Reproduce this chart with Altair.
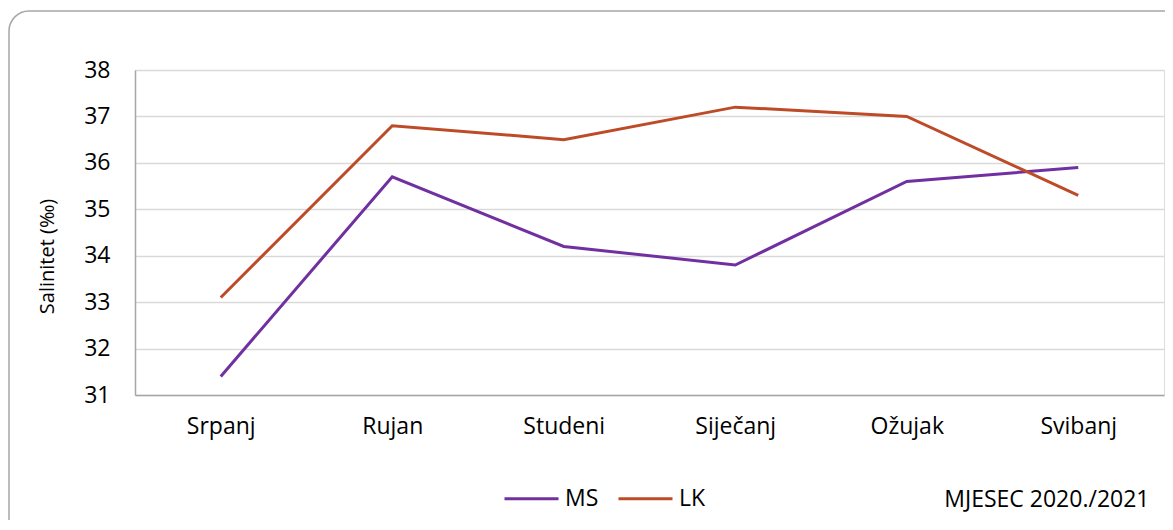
import altair as alt
import pandas as pd

months = ["Srpanj", "Rujan", "Studeni", "Siječanj", "Ožujak", "Svibanj"]
ms_values = [31.4, 35.7, 34.2, 33.8, 35.6, 35.9]
lk_values = [33.1, 36.8, 36.5, 37.2, 37.0, 35.3]
series_names = ["MS", "LK"]
series_colors = ["#7030A0", "#BE4B28"]

rows = []
for m, v in zip(months, ms_values):
    rows.append({"Mjesec": m, "Serija": "MS", "Salinitet": v})
for m, v in zip(months, lk_values):
    rows.append({"Mjesec": m, "Serija": "LK", "Salinitet": v})
df = pd.DataFrame(rows)

FONT = "Open Sans"
FS = 23
W, H = 1029, 325

frame = alt.Chart(pd.DataFrame({"a": [0]})).mark_rect(
    fill="white", fillOpacity=0, stroke="#A6A6A6", strokeWidth=1.5, cornerRadius=20
).encode(
    x=alt.value(-126), x2=alt.value(W + 40),
    y=alt.value(-59), y2=alt.value(H + 200),
)

lines = alt.Chart(df).mark_line(strokeWidth=3).encode(
    x=alt.X("Mjesec:N", sort=months,
            scale=alt.Scale(type="point", padding=0.5),
            axis=alt.Axis(title="MJESEC 2020./2021", labelAngle=0, ticks=False,
                          labelPadding=20, labelFontSize=FS, labelFont=FONT,
                          labelColor="#000000", domainColor="#A6A6A6", domainWidth=1.5,
                          titleFont=FONT, titleFontSize=FS, titleFontWeight="normal",
                          titleColor="#000000", titleAnchor="end", titleAlign="right",
                          titleX=1014, titleY=111, titleBaseline="alphabetic")),
    y=alt.Y("Salinitet:Q",
            scale=alt.Scale(domain=[31, 38], nice=False, zero=False),
            axis=alt.Axis(title="Salinitet (‰)", values=[31, 32, 33, 34, 35, 36, 37, 38],
                          format="d", ticks=False, labelPadding=25, labelFontSize=FS,
                          labelFont=FONT, labelColor="#000000",
                          domainColor="#A6A6A6", domainWidth=1.5,
                          gridColor="#D9D9D9", gridWidth=1.5,
                          titleFont=FONT, titleFontSize=20, titleFontWeight="normal",
                          titleColor="#000000", titleAngle=270, titleX=-82, titleY=186,
                          titleAlign="center", titleBaseline="alphabetic")),
    color=alt.Color("Serija:N",
                    scale=alt.Scale(domain=series_names, range=series_colors),
                    legend=alt.Legend(title=None, orient="none", direction="horizontal",
                                      legendX=368, legendY=400, symbolType="stroke",
                                      symbolSize=2916, symbolStrokeWidth=3,
                                      labelFont=FONT, labelFontSize=FS, labelColor="#000000",
                                      labelOffset=5, columnPadding=13)),
)

chart = alt.layer(frame, lines).properties(
    width=W, height=H,
    autosize=alt.AutoSizeParams(type="none"),
    padding={"left": 127, "top": 62, "right": 1, "bottom": 125},
).configure_view(stroke=None).configure(background="white")

chart.save("out.html", embed_options={"renderer": "svg", "actions": False})
